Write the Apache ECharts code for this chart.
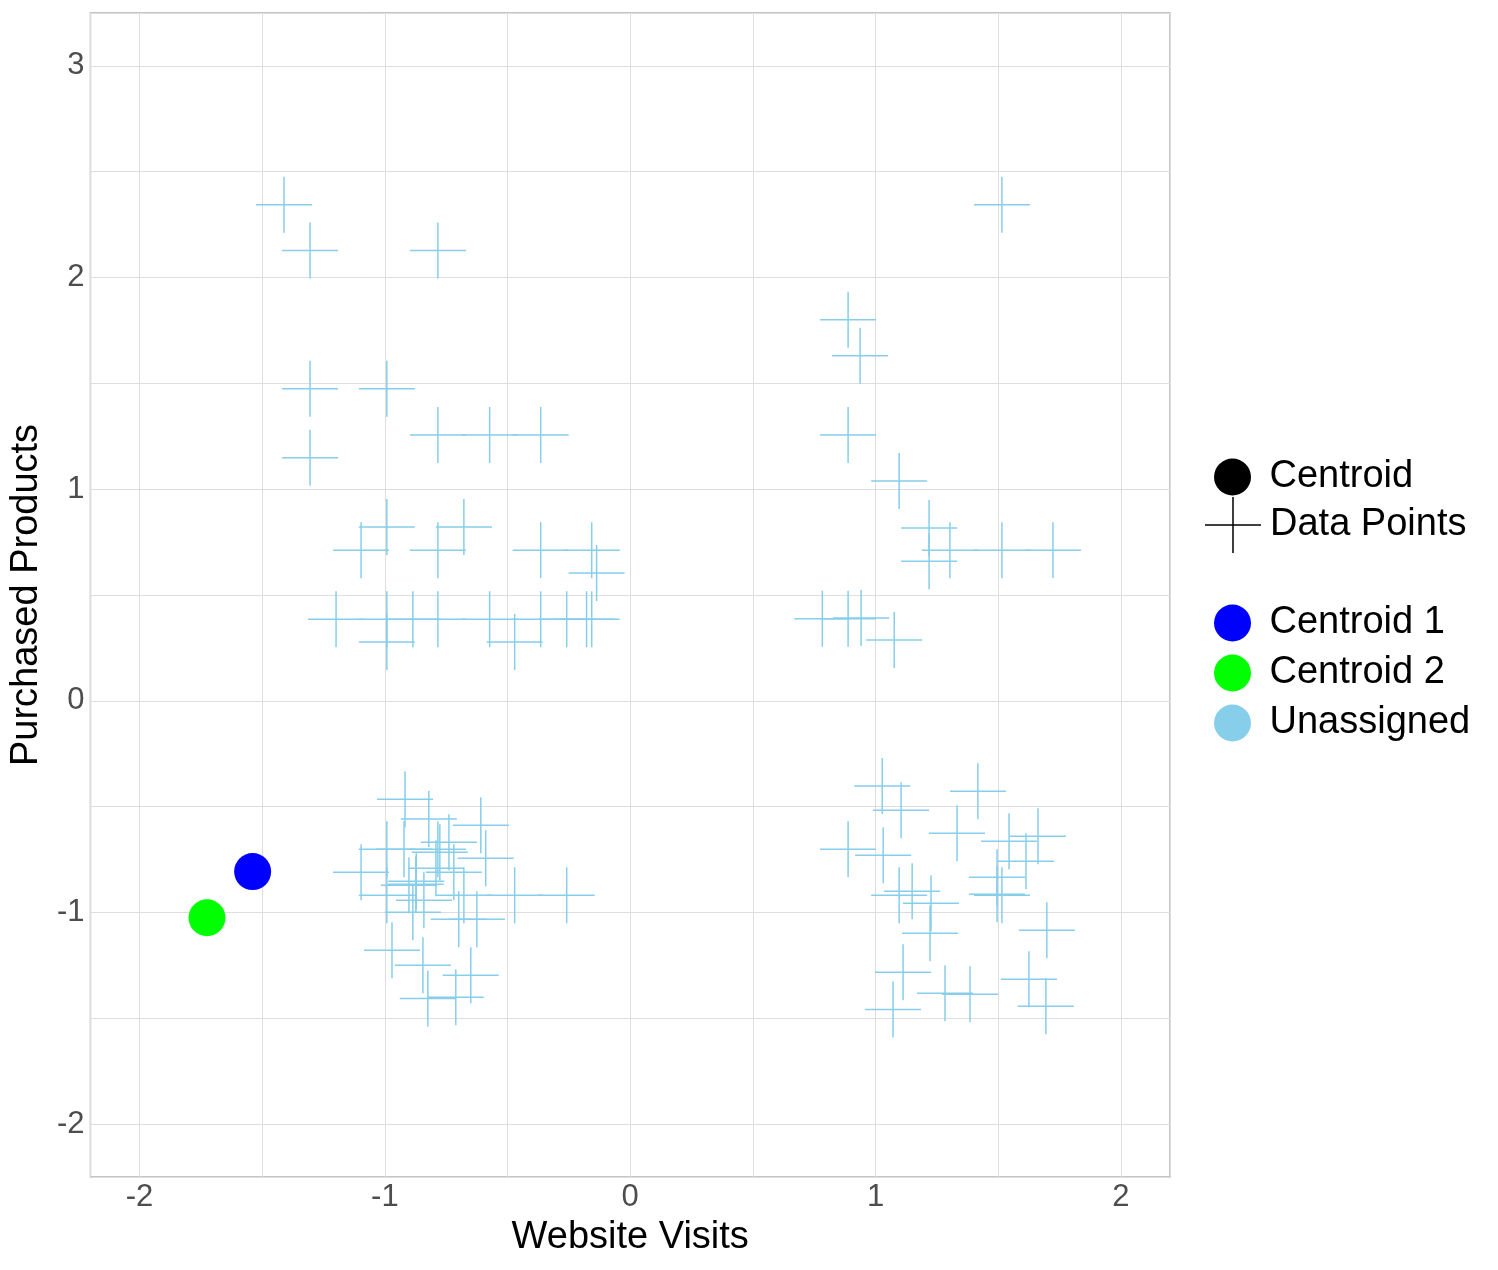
<!DOCTYPE html>
<html>
<head>
<meta charset="utf-8">
<title>Website Visits vs Purchased Products</title>
<script src="https://cdn.jsdelivr.net/npm/echarts@6/dist/echarts.min.js"></script>
<style>
  html, body { margin: 0; padding: 0; background: #fff; }
  #chart { width: 1498px; height: 1270px; }
</style>
</head>
<body>
<div id="chart"></div>
<script>
// 标准化后的数据点
var visits = [
  -1.411, -1.305, -0.784, -1.305, -0.992, -0.784, -0.573, -0.365, -1.305,
  -0.992, -1.097, -0.678, -0.784, -0.365, -0.157, -0.137,
  -1.199, -0.992, -0.886, -0.784, -0.573, -0.365, -0.259, -0.178, -0.157,
  -0.992, -0.471,
  -0.918, -0.821, -0.609, -0.739, -0.992, -0.922, -0.784, -0.776, -0.589,
  -0.792, -1.097, -0.719, -0.872, -0.874, -0.902, -0.992, -0.678, -0.471,
  -0.259, -0.841, -0.886, -0.699, -0.625, -0.971, -0.845, -0.650, -0.711, -0.825,
  1.515, 0.888, 0.937, 0.888, 1.096, 1.218, 1.218, 1.303, 1.515, 1.723,
  0.783, 0.888, 0.941, 1.076,
  1.027, 1.104, 1.417, 1.332, 1.544, 1.662, 1.613, 0.888, 1.031, 1.495,
  1.495, 1.515, 1.149, 1.096, 1.226, 1.222, 1.698, 1.112, 1.071, 1.283,
  1.385, 1.625, 1.694
]
var products = [
  2.344, 2.128, 2.128, 1.474, 1.474, 1.256, 1.256, 1.256, 1.148,
  0.821, 0.712, 0.821, 0.712, 0.712, 0.712, 0.604,
  0.386, 0.386, 0.386, 0.386, 0.386, 0.386, 0.386, 0.386, 0.386,
  0.278, 0.278,
  -0.465, -0.559, -0.588, -0.668, -0.701, -0.701, -0.701, -0.715, -0.744,
  -0.791, -0.810, -0.810, -0.853, -0.867, -0.871, -0.919, -0.919, -0.919,
  -0.919, -0.942, -0.999, -1.032, -1.032, -1.179, -1.250, -1.297, -1.401, -1.406,
  2.344, 1.800, 1.630, 1.256, 1.039, 0.816, 0.660, 0.712, 0.712, 0.712,
  0.388, 0.388, 0.391, 0.287,
  -0.403, -0.517, -0.427, -0.626, -0.663, -0.640, -0.758, -0.701, -0.730, -0.834,
  -0.914, -0.919, -0.900, -0.919, -0.957, -1.098, -1.084, -1.283, -1.458, -1.382,
  -1.387, -1.316, -1.443
]

// 初始质心
var centroid1 = [-1.539, -0.807]
var centroid2 = [-1.725, -1.025]

var xRange = [-2.2, 2.2]
var yRange = [-2.25, 3.25]

var FONT = "'Liberation Sans', Arial, sans-serif"
// 十字形符号，填充细矩形而不是描边
var CROSS = 'path://M0,27.25H56V28.75H0ZM27.25,0H28.75V56H27.25Z'

var points = visits.map(function (x, i) {
  return [x, products[i]]
})

function intLabel(v) {
  return Math.abs(v - Math.round(v)) < 1e-9 ? String(Math.round(v)) : ''
}

var legendText = { fontSize: 38, fontFamily: FONT, color: '#000' }

var myChart = echarts.init(document.getElementById('chart'), null, { renderer: 'canvas' })
var option = {
  animation: false,
  backgroundColor: '#fff',
  grid: {
    left: 90, right: 328, top: 13, bottom: 93,
    show: true,
    borderColor: '#b3b3b3',
    borderWidth: 1.5,
    backgroundColor: 'transparent'
  },
  xAxis: {
    type: 'value',
    min: xRange[0], max: xRange[1],
    splitNumber: 9,
    name: 'Website Visits',
    nameLocation: 'middle',
    nameGap: 42,
    nameTextStyle: { fontSize: 38, fontFamily: FONT, color: '#000' },
    axisLine: { show: false },
    axisTick: { show: false },
    axisLabel: {
      margin: 5, fontSize: 31, fontFamily: FONT, color: '#4d4d4d',
      showMinLabel: false, showMaxLabel: false,
      formatter: intLabel
    },
    splitLine: { lineStyle: { color: '#dedede', width: 1 } }
  },
  yAxis: {
    type: 'value',
    min: yRange[0], max: yRange[1],
    splitNumber: 11,
    name: 'Purchased Products',
    nameLocation: 'middle',
    nameGap: 35,
    nameTextStyle: { fontSize: 38, fontFamily: FONT, color: '#000' },
    axisLine: { show: false },
    axisTick: { show: false },
    axisLabel: {
      margin: 6, fontSize: 31, fontFamily: FONT, color: '#4d4d4d',
      padding: [6, 0, 0, 0],
      showMinLabel: false, showMaxLabel: false,
      formatter: intLabel
    },
    splitLine: { lineStyle: { color: '#dedede', width: 1 } }
  },
  legend: [
    {
      orient: 'vertical', left: 1209, top: 453,
      itemWidth: 64, itemHeight: 37, itemGap: 12,
      textStyle: legendText,
      selectedMode: false,
      data: [{ name: 'Centroid', icon: 'circle', itemStyle: { color: '#000', opacity: 1 } }]
    },
    {
      orient: 'vertical', left: 1200, top: 492,
      itemWidth: 64, itemHeight: 56, itemGap: 12,
      textStyle: legendText,
      selectedMode: false,
      data: [{ name: 'Data Points', icon: CROSS, itemStyle: { color: '#000', opacity: 1 } }]
    },
    {
      orient: 'vertical', left: 1209, top: 599,
      itemWidth: 64, itemHeight: 37, itemGap: 12,
      textStyle: legendText,
      selectedMode: false,
      data: [
        { name: 'Centroid 1', icon: 'circle', itemStyle: { color: '#0000ff', opacity: 1 } },
        { name: 'Centroid 2', icon: 'circle', itemStyle: { color: '#00ff00', opacity: 1 } },
        { name: 'Unassigned', icon: 'circle', itemStyle: { color: '#87ceeb', opacity: 1 } }
      ]
    }
  ],
  series: [
    // 图例专用的空系列
    { name: 'Centroid', type: 'scatter', data: [], itemStyle: { color: '#000', opacity: 1 } },
    { name: 'Data Points', type: 'scatter', data: [], symbol: CROSS, itemStyle: { color: '#000', opacity: 1 } },
    {
      name: 'Unassigned',
      type: 'scatter',
      data: points,
      symbol: CROSS,
      symbolSize: 56,
      itemStyle: { color: '#87ceeb', opacity: 1 },
      emphasis: { disabled: true },
      z: 2
    },
    {
      name: 'Centroid 1',
      type: 'scatter',
      data: [centroid1],
      symbol: 'circle',
      symbolSize: 37,
      itemStyle: { color: '#0000ff', opacity: 1 },
      emphasis: { disabled: true },
      z: 3
    },
    {
      name: 'Centroid 2',
      type: 'scatter',
      data: [centroid2],
      symbol: 'circle',
      symbolSize: 37,
      itemStyle: { color: '#00ff00', opacity: 1 },
      emphasis: { disabled: true },
      z: 3
    }
  ]
}

myChart.setOption(option)
</script>
</body>
</html>
